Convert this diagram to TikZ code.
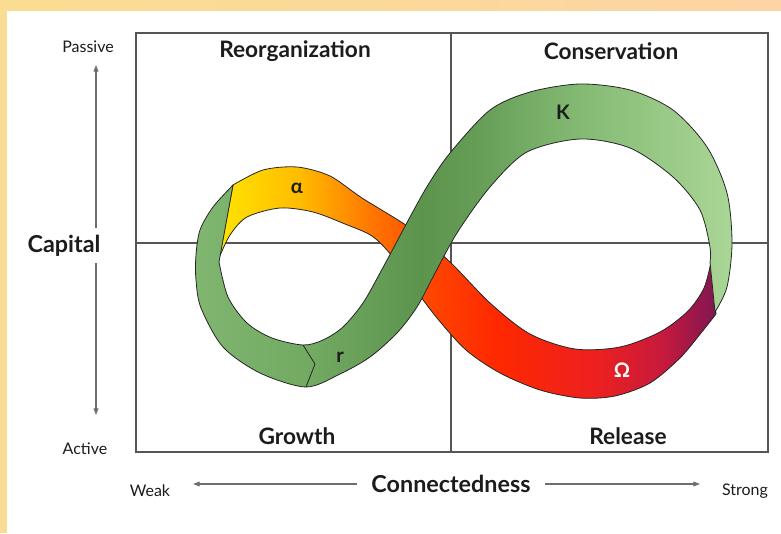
\documentclass[tikz,border=0pt]{standalone}
\usepackage{fontspec}
\setmainfont{Lato}
\usetikzlibrary{arrows.meta,positioning,shadings}

\definecolor{frameyellow}{RGB}{250,221,146}
\definecolor{framepeach}{RGB}{253,212,164}
\definecolor{textblack}{RGB}{28,28,28}
\definecolor{axisgray}{RGB}{110,110,110}
\definecolor{boxgray}{RGB}{85,85,85}
% alpha -> omega colours
\definecolor{ayellow}{RGB}{255,228,0}
\definecolor{aamber}{RGB}{255,188,0}
\definecolor{aorange}{RGB}{255,122,0}
\definecolor{ared1}{RGB}{255,70,0}
\definecolor{ared2}{RGB}{255,40,0}
\definecolor{ared3}{RGB}{236,32,32}
\definecolor{acrimson}{RGB}{200,26,60}
\definecolor{apurple}{RGB}{128,22,82}
% r -> K colours
\definecolor{gmid}{RGB}{128,182,112}
\definecolor{gleft}{RGB}{114,170,98}
\definecolor{gdark}{RGB}{92,148,78}
\definecolor{gdark2}{RGB}{102,158,88}
\definecolor{gk}{RGB}{132,186,116}
\definecolor{glight}{RGB}{170,214,150}

\pgfdeclarehorizontalshading{alphaomega}{100bp}{color(0bp)=(ayellow); color(25bp)=(ayellow);
  color(33bp)=(aamber); color(40bp)=(aorange); color(46bp)=(ared1); color(53bp)=(ared2);
  color(63bp)=(ared3); color(69.5bp)=(acrimson); color(75bp)=(apurple); color(100bp)=(apurple)}
\pgfdeclarehorizontalshading{growthcons}{100bp}{color(0bp)=(gmid); color(25bp)=(gmid);
  color(35.7bp)=(gleft); color(46bp)=(gdark); color(51.5bp)=(gdark2); color(61bp)=(gk);
  color(75bp)=(glight); color(100bp)=(glight)}

\begin{document}
\begin{tikzpicture}[x=0.75pt,y=-0.75pt,
    >={Triangle[length=5pt,width=3.6pt]},
    quad/.style={font=\bfseries\fontsize{17}{19}\selectfont,text=textblack},
    axisname/.style={font=\bfseries\fontsize{17.5}{20}\selectfont,text=textblack},
    pole/.style={font=\fontsize{12}{14}\selectfont,text=textblack},
    phase/.style={font=\bfseries\fontsize{15}{17}\selectfont},
    axisline/.style={draw=axisgray,line width=0.8pt},
    frame/.style={draw=boxgray,line width=1.1pt},
    band/.style={draw=black!85,line width=0.6pt,line join=round}]

    \useasboundingbox (0,0) rectangle (781,533);
    \fill[white] (0,0) rectangle (781,533);
    \shade[left color=frameyellow,right color=framepeach] (0,0) rectangle (781,10);
    \fill[frameyellow] (0,0) rectangle (7,533);

    % the four phases
    \draw[frame] (136,33) rectangle (768,452);
    \draw[frame] (451,33) -- (451,452);
    \draw[frame] (136,243) -- (768,243);

    \node[quad] (reorg) at (295,51) {Reorganization};
    \node[quad] (cons) at (611,51) {Conservation};
    \node[quad] (growth) at (297,436) {Growth};
    \node[quad] (release) at (628,436) {Release};

    % alpha - omega band
    \shadedraw[shading=alphaomega,band]
      plot[smooth,tension=0.5] coordinates {(233,185) (263,170) (297,167) (330,176) (362,198) (410,228) (450,262) (490,303) (530,334) (575,349) (620,347) (660,332) (688,311) (704,288) (711,262)}
      -- plot[smooth,tension=0.5] coordinates {(716,314) (701,333) (680,358) (650,383) (615,396) (580,398) (540,390) (500,373) (466,350) (437,318) (413,286) (392,256) (372,236) (345,224) (313,212) (280,208) (247,217) (230,235) (219,258)}
      -- cycle;

    % r - K band
    \shadedraw[shading=growthcons,band]
      plot[smooth,tension=0.5] coordinates {(233,185) (213,207) (200,230) (196,255) (196,280) (201,308) (223,347) (260,373) (306,387) (340,374) (370,357) (397,333) (417,307) (433,277) (457,233) (490,187) (527,152) (580,139) (630,148) (673,177) (700,210) (710,247) (710,262)}
      -- plot[smooth,tension=0.5] coordinates {(715,312) (727,287) (732,243) (727,193) (707,147) (673,110) (630,90) (580,84) (530,92) (490,110) (450,153) (428,185) (410,217) (394,247) (380,273) (363,303) (343,327) (323,340) (303,345) (272,338) (247,323) (228,297) (219,262)}
      -- cycle;
    \draw[band] (303,345) -- (315,364) -- (306,387);

    \node[phase,text=textblack] (alpha) at (297,188) {α};
    \node[phase,text=textblack] (kphase) at (563,112) {K};
    \node[phase,text=textblack] (rphase) at (340,357) {r};
    \node[phase,text=white] (omega) at (622,370) {Ω};

    % capital axis
    \node[pole] (passive) at (88,47) {Passive};
    \node[pole] (active) at (85,449) {Active};
    \node[axisname] (capital) at (64,246) {Capital};
    \coordinate (capup) at (96,65);
    \coordinate (capdown) at (96,415);
    \coordinate (capgapup) at (96,228);
    \coordinate (capgapdown) at (96,263);
    \draw[axisline,->] (capgapup) -- (capup);
    \draw[axisline,->] (capgapdown) -- (capdown);

    % connectedness axis
    \node[axisname,inner xsep=11pt] (conn) at (451,484) {Connectedness};
    \node[pole] (weak) at (150,491) {Weak};
    \node[pole] (strong) at (745,491) {Strong};
    \coordinate (connleft) at (193,484);
    \coordinate (connright) at (700,484);
    \draw[axisline,->] (conn.west) -- (connleft);
    \draw[axisline,->] (conn.east) -- (connright);
\end{tikzpicture}
\end{document}
